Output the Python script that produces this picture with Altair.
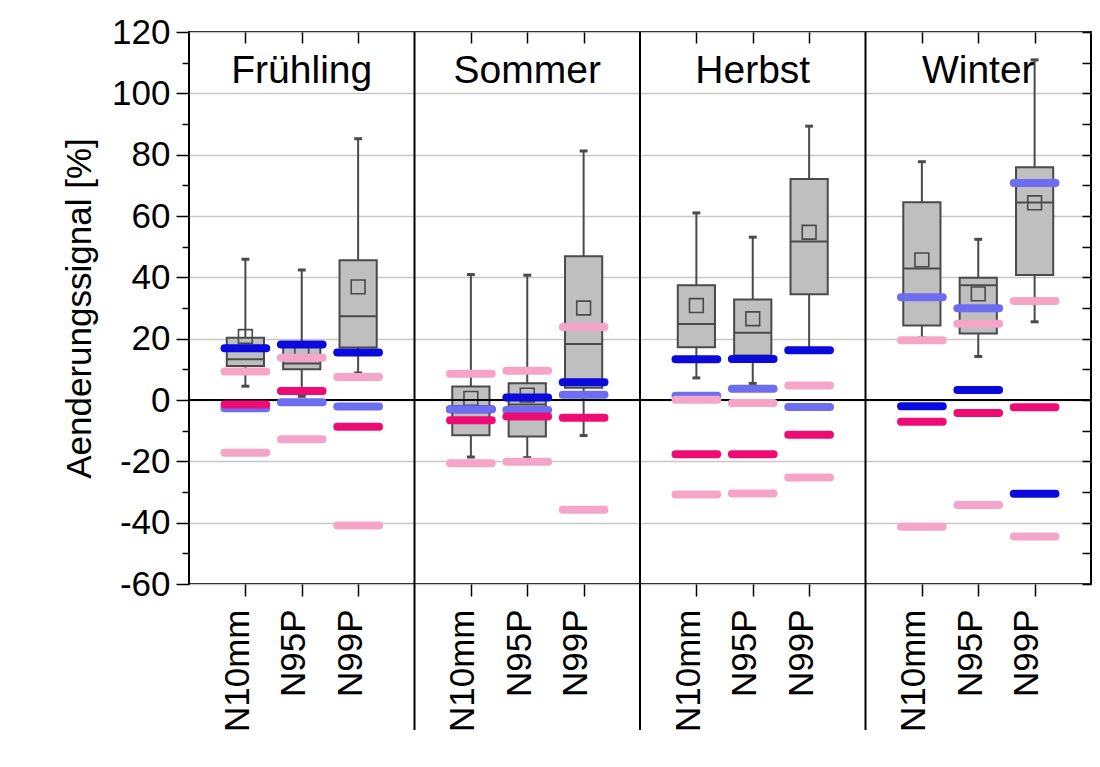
import altair as alt
import pandas as pd

# ---------------- data ----------------
SEASONS = ["Frühling", "Sommer", "Herbst", "Winter"]
INDICES = ["N10mm", "N95P", "N99P"]

# box statistics, order: season-major, index-minor
WHISKER_LOW = [4.5, 1.2, 8.8, -18.6, -18.8, -11.6, 7.2, 5.4, 16.3, 20.2, 14.2, 25.5]
Q1 = [11.1, 10.0, 17.1, -11.5, -11.9, 4.0, 17.2, 14.5, 34.5, 24.3, 21.7, 40.8]
MEDIAN = [13.3, 11.9, 27.3, -2.0, -1.5, 18.3, 24.8, 21.9, 51.7, 42.9, 37.4, 64.4]
Q3 = [20.3, 18.0, 45.6, 4.4, 5.5, 46.9, 37.4, 32.8, 72.1, 64.5, 39.9, 75.9]
WHISKER_HIGH = [45.9, 42.4, 85.2, 40.9, 40.7, 81.2, 61.0, 53.1, 89.3, 77.7, 52.4, 110.9]
MEAN = [20.7, 15.5, 36.9, 0.5, 1.6, 30.0, 30.8, 26.5, 54.7, 45.7, 34.6, 64.3]

# coloured reference markers
SERIES = ["A", "B", "C", "D", "E"]
SERIES_COLORS = ["#0a0adc", "#6d6df2", "#ee0c74", "#f5a5c8", "#f5a5c8"]
SERIES_WIDTHS = [8, 8, 7.5, 5, 5]
MARK_A = [16.9, 18.1, 15.5, -3.0, 0.8, 5.8, 13.3, 13.4, 16.2, -2.0, 3.3, -30.6]
MARK_B = [-2.7, -0.7, -2.1, -3.0, -3.3, 1.7, 1.4, 3.7, -2.3, 33.5, 29.9, 70.8]
MARK_C = [-1.5, 2.9, -8.7, -6.6, -5.4, -5.8, -17.7, -17.7, -11.3, -7.1, -4.2, -2.4]
MARK_D = [9.3, 13.8, 7.5, 8.6, 9.5, 23.8, 0.1, -1.0, 4.7, 19.5, 24.9, 32.3]
MARK_E = [-17.2, -12.8, -40.9, -20.6, -20.1, -35.8, -30.8, -30.5, -25.3, -41.3, -34.2, -44.5]

Y_MAJOR = list(range(-60, 121, 20))
Y_MINOR = list(range(-50, 111, 20))
Y_ALL = list(range(-60, 121, 10))
ZERO = [0]

# ---------------- tables ----------------
SLOT = len(INDICES) + 1
rows = []
k = 0
for si, s in enumerate(SEASONS):
    for ii, ind in enumerate(INDICES):
        rows.append(dict(season=s, index=ind, pos=si * SLOT + ii + 1,
                         low=WHISKER_LOW[k], q1=Q1[k], med=MEDIAN[k], q3=Q3[k],
                         high=WHISKER_HIGH[k], mean=MEAN[k]))
        k += 1
box_df = pd.DataFrame(rows)

mk_rows = []
for sname, vals in zip(SERIES, [MARK_A, MARK_B, MARK_C, MARK_D, MARK_E]):
    for j, v in enumerate(vals):
        mk_rows.append(dict(series=sname, pos=box_df.pos[j], value=v))
mk_df = pd.DataFrame(mk_rows)

sep_df = pd.DataFrame({"sep": [SLOT * (i + 1) for i in range(len(SEASONS) - 1)]})
title_df = pd.DataFrame({"season": SEASONS,
                         "pos": [SLOT * i + SLOT / 2 for i in range(len(SEASONS))]})
zero_df = pd.DataFrame({"y": ZERO})

TICK_POS = [int(p) for p in box_df.pos]
label_arr = "[''," + ",".join("'%s'" % s for s in INDICES) + "]"
label_expr = label_arr + "[datum.value % " + str(SLOT) + "]"

FONT = "Liberation Sans"
xscale = alt.Scale(domain=[0, SLOT * len(SEASONS)], nice=False, zero=False)
yscale = alt.Scale(domain=[-60, 120], nice=False, zero=False)

BOXC = "#4a4a4a"
HW = 0.33   # box half width (x units)
CW = 0.07   # whisker cap half width
MW = 0.37   # marker half length

x_bottom = alt.Axis(values=TICK_POS, labelExpr=label_expr, labelAngle=-90,
                    labelFontSize=35, labelPadding=13, labelOffset=-8,
                    tickSize=12, tickWidth=1.5, domain=False, grid=False, title=None)
y_left = alt.Axis(values=Y_MAJOR, labelExpr="'' + datum.value", labelFontSize=35,
                  labelPadding=6, tickSize=13, tickWidth=1.5, domain=False, grid=True,
                  gridColor="#c8c8c8", gridWidth=1.5,
                  title="Aenderungssignal [%]", titleFontSize=35,
                  titleFontWeight="normal", titlePadding=14)

base = alt.Chart(box_df)

boxes = base.transform_calculate(
    xa="datum.pos - %f" % HW, xb="datum.pos + %f" % HW
).mark_rect(fill="#bfbfbf", stroke=BOXC, strokeWidth=2).encode(
    x=alt.X("xa:Q", scale=xscale, axis=x_bottom),
    x2="xb:Q",
    y=alt.Y("q1:Q", scale=yscale, axis=y_left),
    y2="q3:Q",
)

wh_up = base.mark_rule(color=BOXC, strokeWidth=2).encode(
    x=alt.X("pos:Q", scale=xscale, axis=None),
    y=alt.Y("q3:Q", scale=yscale, axis=None), y2="high:Q")
wh_dn = base.mark_rule(color=BOXC, strokeWidth=2).encode(
    x=alt.X("pos:Q", scale=xscale, axis=None),
    y=alt.Y("low:Q", scale=yscale, axis=None), y2="q1:Q")

cap_base = base.transform_calculate(
    xa="datum.pos - %f" % CW, xb="datum.pos + %f" % CW)
cap_hi = cap_base.mark_rule(color=BOXC, strokeWidth=3).encode(
    x=alt.X("xa:Q", scale=xscale, axis=None), x2="xb:Q",
    y=alt.Y("high:Q", scale=yscale, axis=None))
cap_lo = cap_base.mark_rule(color=BOXC, strokeWidth=3).encode(
    x=alt.X("xa:Q", scale=xscale, axis=None), x2="xb:Q",
    y=alt.Y("low:Q", scale=yscale, axis=None))

medians = base.transform_calculate(
    xa="datum.pos - %f" % HW, xb="datum.pos + %f" % HW
).mark_rule(color=BOXC, strokeWidth=2).encode(
    x=alt.X("xa:Q", scale=xscale, axis=None), x2="xb:Q",
    y=alt.Y("med:Q", scale=yscale, axis=None))

means = base.mark_point(shape="square", filled=False, size=190,
                        color=BOXC, strokeWidth=1.6, opacity=1).encode(
    x=alt.X("pos:Q", scale=xscale, axis=None),
    y=alt.Y("mean:Q", scale=yscale, axis=None))

zero_line = alt.Chart(zero_df).mark_rule(color="black", strokeWidth=2).encode(
    y=alt.Y("y:Q", scale=yscale, axis=None))

markers = alt.Chart(mk_df).transform_calculate(
    xa="datum.pos - %f" % MW, xb="datum.pos + %f" % MW
).mark_rule(strokeCap="round").encode(
    x=alt.X("xa:Q", scale=xscale, axis=None), x2="xb:Q",
    y=alt.Y("value:Q", scale=yscale, axis=None),
    color=alt.Color("series:N", scale=alt.Scale(domain=SERIES, range=SERIES_COLORS), legend=None),
    strokeWidth=alt.StrokeWidth("series:N", scale=alt.Scale(domain=SERIES, range=SERIES_WIDTHS), legend=None),
)

seps = alt.Chart(sep_df).mark_rule(color="black", strokeWidth=2).encode(
    x=alt.X("sep:Q", scale=xscale, axis=None),
    y=alt.value(0), y2=alt.value(698))

titles = alt.Chart(title_df).mark_text(fontSize=39, font=FONT, baseline="alphabetic",
                                       align="center", color="black").encode(
    x=alt.X("pos:Q", scale=xscale, axis=None),
    y=alt.value(51), text="season:N")

# extra axes: minor left ticks, right inner ticks, top inner ticks
ax_minor = base.mark_point(opacity=0).encode(
    x=alt.X("pos:Q", scale=xscale, axis=None),
    y=alt.Y("med:Q", scale=yscale,
            axis=alt.Axis(orient="left", values=Y_MINOR, labels=False, tickSize=7,
                          tickWidth=1.5, domain=False, grid=False, title=None)))
ax_right = base.mark_point(opacity=0).encode(
    x=alt.X("pos:Q", scale=xscale, axis=None),
    y=alt.Y("med:Q", scale=yscale,
            axis=alt.Axis(orient="right", values=Y_ALL, labels=False, tickSize=9,
                          offset=-9, tickWidth=1.5, domain=False, grid=False, title=None)))
ax_top = base.mark_point(opacity=0).encode(
    x=alt.X("pos:Q", scale=xscale,
            axis=alt.Axis(orient="top", values=TICK_POS, labels=False, tickSize=11,
                          offset=-11, tickWidth=1.5, domain=False, grid=False, title=None)),
    y=alt.Y("med:Q", scale=yscale, axis=None))

chart = alt.layer(
    boxes, wh_up, wh_dn, cap_hi, cap_lo, medians, means, zero_line, markers,
    seps, titles, ax_minor, ax_right, ax_top
).resolve_axis(x="independent", y="independent").properties(
    width=902, height=552,
    autosize=alt.AutoSizeParams(type="none"),
    padding={"left": 181, "top": 24, "right": 1, "bottom": 160},
).configure_view(stroke="black", strokeWidth=2).configure_axis(
    labelFont=FONT, titleFont=FONT, labelColor="black", titleColor="black",
    tickColor="black"
)

chart.save("out.html", embed_options={"renderer": "svg", "actions": False})
